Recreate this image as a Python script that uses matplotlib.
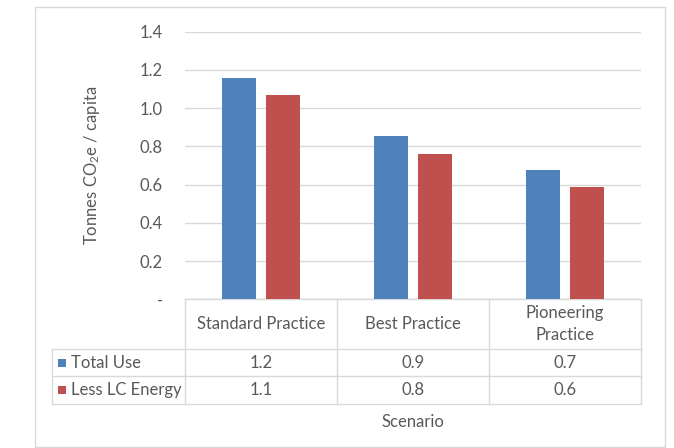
import matplotlib.pyplot as plt
from matplotlib.patches import Rectangle
from matplotlib.lines import Line2D
import numpy as np

scenarios = ["Standard Practice", "Best Practice", "Pioneering\nPractice"]
series = ["Total Use", "Less LC Energy"]
total_use = [1.16, 0.852, 0.675]
less_lc = [1.07, 0.76, 0.585]
yticks = [0, 0.2, 0.4, 0.6, 0.8, 1.0, 1.2, 1.4]
ytick_labels = ["-", "0.2", "0.4", "0.6", "0.8", "1.0", "1.2", "1.4"]

colors = ["#4F81BD", "#C0504D"]
txt = "#595959"
grid = "#D9D9D9"
fs = 12

plt.rcParams['font.family'] = ['Lato', 'DejaVu Sans']
plt.rcParams['mathtext.fontset'] = 'custom'
plt.rcParams['mathtext.rm'] = 'Lato'
plt.rcParams['mathtext.it'] = 'Lato'

W, H = 674, 448
fig = plt.figure(figsize=(W / 100, H / 100), dpi=100)

# plot area in pixels
x0, x1 = 185, 641
ytop, ybot = 31.7, 299.3
ax = fig.add_axes([x0 / W, 1 - ybot / H, (x1 - x0) / W, (ybot - ytop) / H])

x = np.arange(len(scenarios))
bw = 0.224
off = 0.142
ax.bar(x - off, total_use, bw, color=colors[0], zorder=3)
ax.bar(x + off, less_lc, bw, color=colors[1], zorder=3)

ax.set_xlim(-0.5, 2.5)
ax.set_ylim(0, 1.4)
ax.set_yticks(yticks)
ax.set_yticklabels(ytick_labels)
ax.tick_params(axis='y', length=0, pad=16, labelsize=fs, labelcolor=txt)
ax.set_xticks([])
ax.yaxis.grid(True, color=grid, linewidth=1)
ax.set_axisbelow(True)
for s in ["top", "right", "left", "bottom"]:
    ax.spines[s].set_visible(False)

ax.set_ylabel("Tonnes CO$_2$e / capita", fontsize=fs, color=txt, labelpad=27)

# data table below the axis
ph = ybot - ytop
pw = x1 - x0
def ay(py):
    return (ybot - py) / ph
def ax_(px):
    return (px - x0) / pw

tl = ax_(52)
r_head, r1, r2 = ay(349), ay(376), ay(403.5)
lines = [
    ([0, 1], [0, 0]),
    ([tl, 1], [r_head, r_head]),
    ([tl, 1], [r1, r1]),
    ([tl, 1], [r2, r2]),
    ([tl, tl], [r_head, r2]),
]
for cx in [0, 1 / 3, 2 / 3, 1]:
    lines.append(([cx, cx], [0, r2]))
for lx, ly in lines:
    ax.add_line(Line2D(lx, ly, color=grid, linewidth=1, transform=ax.transAxes, clip_on=False))

for i, name in enumerate(scenarios):
    ax.text((i + 0.5) / 3, r_head / 2, name, transform=ax.transAxes, ha='center', va='center',
            fontsize=fs, color=txt, linespacing=1.45)

vals = [total_use, less_lc]
rows = [(r_head + r1) / 2, (r1 + r2) / 2]
sq = 8
for j, (name, yv) in enumerate(zip(series, rows)):
    ax.add_patch(Rectangle((ax_(58), yv - sq / 2 / ph), sq / pw, sq / ph,
                           facecolor=colors[j], transform=ax.transAxes, clip_on=False))
    ax.text(ax_(71), yv, name, transform=ax.transAxes, ha='left', va='center',
            fontsize=fs, color=txt)
    for i, v in enumerate(vals[j]):
        ax.text((i + 0.5) / 3, yv, f"{v:.1f}", transform=ax.transAxes, ha='center', va='center',
                fontsize=fs, color=txt)

fig.text(413 / W, 1 - 422 / H, "Scenario", ha='center', va='center', fontsize=fs, color=txt)

# chart border
fig.add_artist(Rectangle((35 / W, 1 - 447 / H), 630 / W, 440 / H, fill=False,
                         edgecolor=grid, linewidth=1, transform=fig.transFigure))

fig.savefig("out.png", dpi=100)
